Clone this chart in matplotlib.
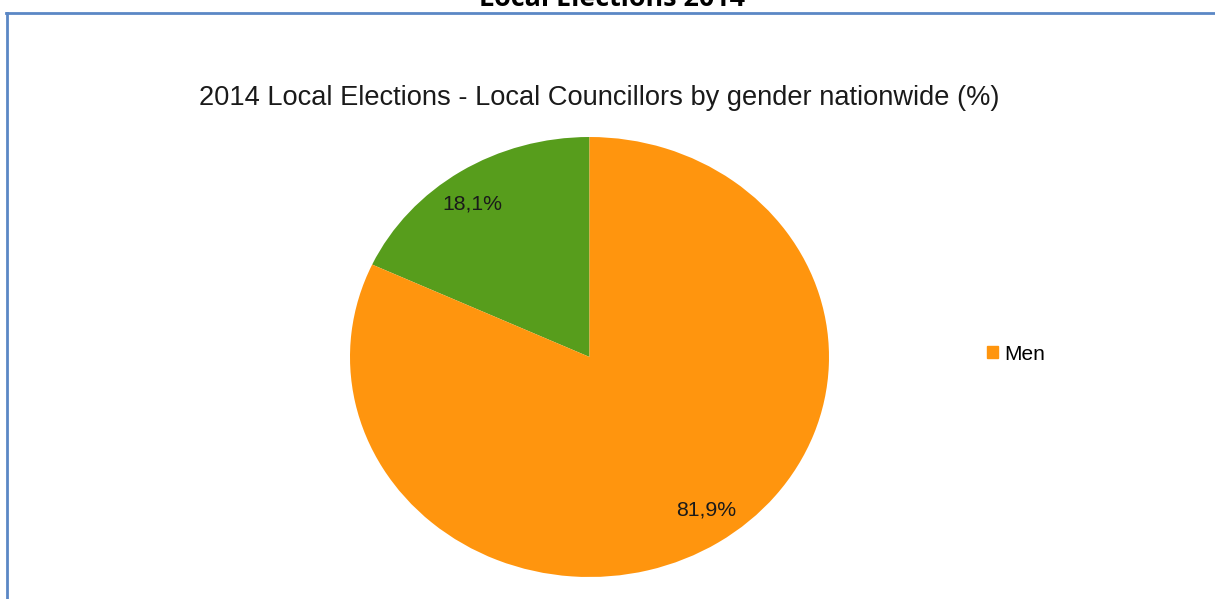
import matplotlib.pyplot as plt
from matplotlib.lines import Line2D
from matplotlib.patches import Patch
import numpy as np

# Data
labels = ['Women', 'Men']
shares = [18.1, 81.9]
pct_labels = ['18,1%', '81,9%']
colors = ['#579d1c', '#ff950e']
legend_labels = ['Men']

plt.rcParams['font.family'] = ['Liberation Sans', 'DejaVu Sans']

fig = plt.figure(figsize=(12.15, 5.99), dpi=100)
W, H = 1215, 599

# pie area (stretched slightly, like the original)
ax = fig.add_axes([350 / W, (H - 577) / H, 479 / W, 440 / H])
wedges, _ = ax.pie(shares, colors=colors, startangle=90, radius=1,
                   wedgeprops=dict(linewidth=0))
ax.set_aspect('auto')
ax.set_xlim(-1, 1)
ax.set_ylim(-1, 1)

# percentage labels
label_angles = [125, -55]
for txt, ang in zip(pct_labels, label_angles):
    r = 0.85
    ax.text(r * np.cos(np.radians(ang)), r * np.sin(np.radians(ang)), txt,
            ha='center', va='center', fontsize=15.3, color='#1a1a1a')

fig.text(599 / W, 1 - 98 / H,
         '2014 Local Elections - Local Councillors by gender nationwide (%)',
         ha='center', va='center', fontsize=19.6, color='#1a1a1a')

# outer page title, cut at the top
fig.text(612 / W, 1 - 6 / H, 'Local Elections 2014', ha='center',
         va='baseline', fontsize=19.4, fontweight='bold',
         family=['Open Sans', 'DejaVu Sans'])

# legend with Men only
fig.legend(handles=[Patch(color=colors[1])], labels=legend_labels,
           loc='center left', bbox_to_anchor=(968 / W, 1 - 354 / H),
           frameon=False, fontsize=15, handlelength=0.55, handleheight=0.55,
           handletextpad=0.3)

# frame border lines
fig.add_artist(Line2D([6 / W, 1], [1 - 12.5 / H, 1 - 12.5 / H],
                      color='#5b87c5', lw=2))
fig.add_artist(Line2D([7 / W, 7 / W], [0, 1 - 12.5 / H],
                      color='#5b87c5', lw=2))

plt.savefig('out.png', dpi=100)
